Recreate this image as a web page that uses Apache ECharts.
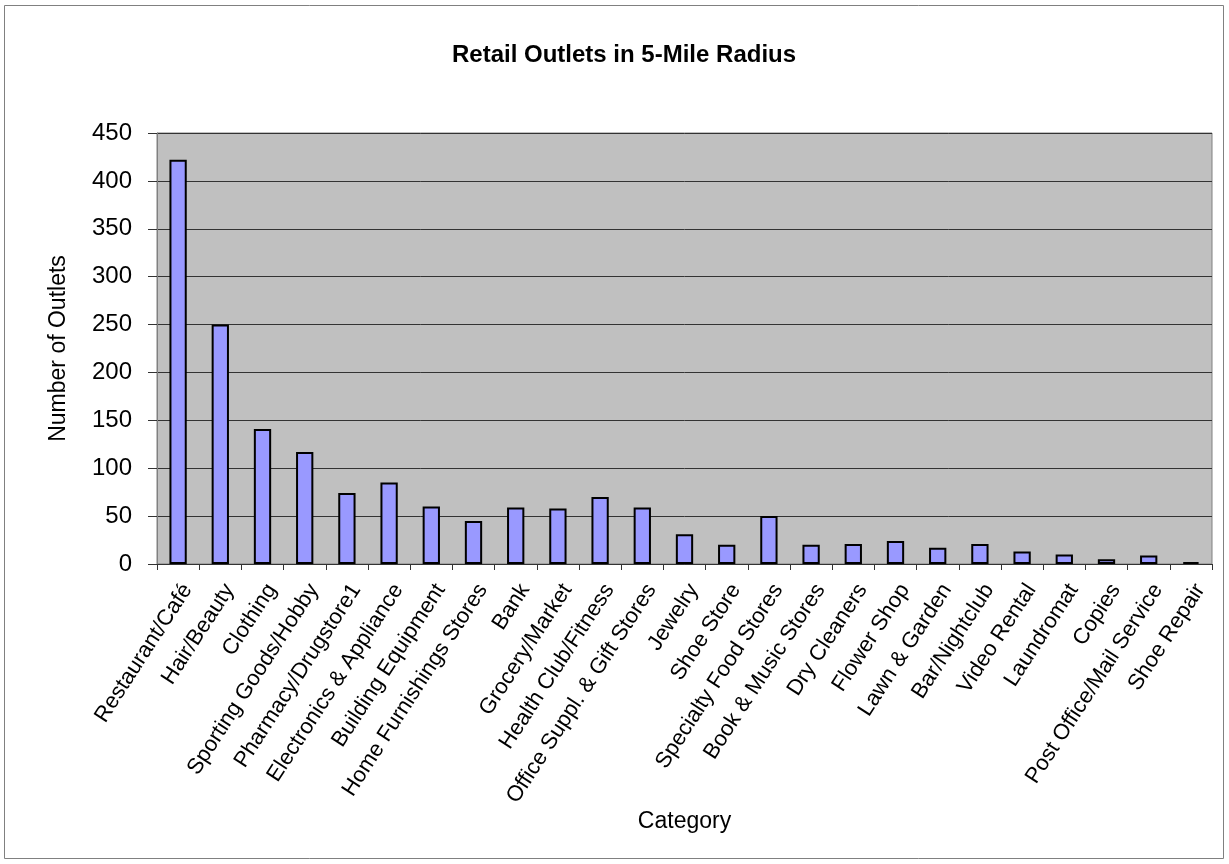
<!DOCTYPE html>
<html>
<head>
<meta charset="utf-8">
<title>Retail Outlets in 5-Mile Radius</title>
<script src="https://cdn.jsdelivr.net/npm/echarts@6/dist/echarts.min.js"></script>
<style>
  html, body { margin: 0; padding: 0; background: #ffffff; }
  #chart { width: 1229px; height: 864px; }
</style>
</head>
<body>
<div id="chart"></div>
<script>
// Outlet categories, ordered as in the survey
const categories = [
  'Restaurant/Café', 'Hair/Beauty', 'Clothing', 'Sporting Goods/Hobby',
  'Pharmacy/Drugstore1', 'Electronics & Appliance', 'Building Equipment',
  'Home Furnishings Stores', 'Bank', 'Grocery/Market', 'Health Club/Fitness',
  'Office Suppl. & Gift Stores', 'Jewelry', 'Shoe Store', 'Specialty Food Stores',
  'Book & Music Stores', 'Dry Cleaners', 'Flower Shop', 'Lawn & Garden',
  'Bar/Nightclub', 'Video Rental', 'Laundromat', 'Copies',
  'Post Office/Mail Service', 'Shoe Repair'
];

// Number of outlets found for each category
const outletCounts = [
  422, 250, 141, 117, 74, 85, 60, 45, 59, 58, 70, 59,
  31, 20, 50, 20, 21, 24, 17, 21, 13, 10, 5, 9, 2
];

// Value axis ticks
const yTicks = [0, 50, 100, 150, 200, 250, 300, 350, 400, 450];

const FONT = "'Liberation Sans', Arial, sans-serif";

const chart = echarts.init(document.getElementById('chart'), null, { renderer: 'canvas' });

chart.setOption({
  backgroundColor: '#ffffff',
  animation: false,
  title: {
    text: 'Retail Outlets in 5-Mile Radius',
    left: 447,
    top: 38,
    textStyle: { fontFamily: FONT, fontSize: 24, fontWeight: 'bold', color: '#000000' }
  },
  graphic: [{
    type: 'rect',
    shape: { x: 4.5, y: 5.5, width: 1219, height: 853 },
    style: { fill: 'none', stroke: '#808080', lineWidth: 1 },
    silent: true,
    z: -1
  }],
  grid: {
    left: 157,
    top: 133,
    width: 1055,
    height: 431,
    show: true,
    backgroundColor: '#C0C0C0',
    borderColor: '#808080',
    borderWidth: 1
  },
  xAxis: {
    type: 'category',
    data: categories,
    name: 'Category',
    nameLocation: 'middle',
    nameGap: 238,
    nameTextStyle: { fontFamily: FONT, fontSize: 23, color: '#000000' },
    axisLine: { show: true, lineStyle: { color: '#333333', width: 1 } },
    axisTick: { show: true, alignWithLabel: false, length: 6, lineStyle: { color: '#333333' } },
    axisLabel: {
      interval: 0,
      rotate: 57,
      margin: 16,
      verticalAlign: 'top',
      fontFamily: FONT,
      fontSize: 22,
      color: '#000000'
    },
    splitLine: { show: false }
  },
  yAxis: {
    type: 'value',
    min: yTicks[0],
    max: yTicks[yTicks.length - 1],
    interval: yTicks[1] - yTicks[0],
    name: 'Number of Outlets',
    nameLocation: 'middle',
    nameRotate: 90,
    nameGap: 87,
    nameTextStyle: { fontFamily: FONT, fontSize: 23, color: '#000000' },
    axisLine: { show: true, lineStyle: { color: '#808080', width: 1 } },
    axisTick: { show: true, length: 9, lineStyle: { color: '#333333' } },
    axisLabel: {
      margin: 25,
      fontFamily: FONT,
      fontSize: 24,
      color: '#000000'
    },
    splitLine: { show: true, lineStyle: { color: '#333333', width: 1 } }
  },
  series: [{
    type: 'bar',
    data: outletCounts,
    barWidth: '41%',
    itemStyle: {
      color: '#9999FF',
      borderColor: '#000000',
      borderWidth: 2
    }
  }]
});
</script>
</body>
</html>
